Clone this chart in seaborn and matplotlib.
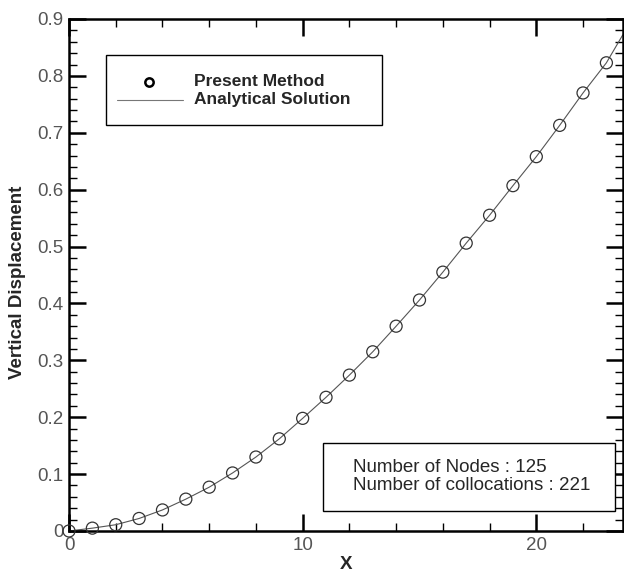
import matplotlib
matplotlib.use("Agg")
import matplotlib.pyplot as plt
from matplotlib.lines import Line2D
from matplotlib.patches import Rectangle
from matplotlib.ticker import MultipleLocator
import seaborn as sns
import pandas as pd

# values
node_x = [0, 1, 2, 3, 4, 5, 6, 7, 8, 9, 10, 11, 12, 13, 14, 15, 16, 17, 18, 19, 20, 21, 22, 23]
node_y = [0.0, 0.005, 0.011, 0.022, 0.037, 0.056, 0.077, 0.102, 0.130, 0.162, 0.198, 0.235,
          0.274, 0.315, 0.360, 0.406, 0.455, 0.506, 0.555, 0.607, 0.658, 0.713, 0.770, 0.823]
exact_x = node_x + [23.7]
exact_y = node_y + [0.872]

legend_labels = ["Present Method", "Analytical Solution"]
info_lines = ["Number of Nodes : 125", "Number of collocations : 221"]

sns.set_style("ticks")
plt.rcParams['font.family'] = ['Liberation Sans', 'DejaVu Sans']

fig = plt.figure(figsize=(6.24, 5.72), dpi=100)
ax = fig.add_axes([0.1106, 0.0717, 0.8874, 0.8951])

sns.lineplot(data=pd.DataFrame({"x": exact_x, "y": exact_y}), x="x", y="y", ax=ax,
             color="#555555", linewidth=0.8, sort=False)
sns.scatterplot(data=pd.DataFrame({"x": node_x, "y": node_y}), x="x", y="y", ax=ax,
                marker="o", s=75, facecolor="none", edgecolor="#333333", linewidth=0.9,
                zorder=3, clip_on=False)

ax.set_xlim(0, 23.7)
ax.set_ylim(0, 0.9)
ax.xaxis.set_major_locator(MultipleLocator(10))
ax.xaxis.set_minor_locator(MultipleLocator(2))
ax.yaxis.set_minor_locator(MultipleLocator(0.02))
ax.set_yticks([0, 0.1, 0.2, 0.3, 0.4, 0.5, 0.6, 0.7, 0.8, 0.9])
ax.set_yticklabels(["0", "0.1", "0.2", "0.3", "0.4", "0.5", "0.6", "0.7", "0.8", "0.9"])
ax.tick_params(which="both", direction="in", top=True, right=True, color="black",
               labelsize=13.5, labelcolor="#555555")
ax.tick_params(which="major", length=12, width=1.8, pad=4)
ax.tick_params(which="minor", length=6, width=1.0)
for sp in ax.spines.values():
    sp.set_linewidth(1.8)
    sp.set_color("black")

ax.set_xlabel("X", fontsize=13.5, fontweight="bold", labelpad=2)
ax.set_ylabel("Vertical Displacement", fontsize=13.5, fontweight="bold")
ax.yaxis.set_label_coords(-0.078, 0.485)

# legend box drawn by hand to match the reference layout
ax.add_patch(Rectangle((0.0668, 0.793), 0.498, 0.137, transform=ax.transAxes,
                       facecolor="white", edgecolor="black", linewidth=1.0, zorder=4))
ax.add_line(Line2D([0.1444], [0.877], transform=ax.transAxes, linestyle="none",
                   marker="o", markersize=6, markerfacecolor="none",
                   markeredgecolor="black", markeredgewidth=1.8, zorder=5))
ax.add_line(Line2D([0.0866, 0.2058], [0.842, 0.842], transform=ax.transAxes,
                   color="#777777", linewidth=0.8, zorder=5))
ax.text(0.2256, 0.877, legend_labels[0], transform=ax.transAxes, fontsize=12.5,
        fontweight="bold", va="center", ha="left", zorder=5)
ax.text(0.2256, 0.842, legend_labels[1], transform=ax.transAxes, fontsize=12.5,
        fontweight="bold", va="center", ha="left", zorder=5)

# info box
ax.add_patch(Rectangle((0.458, 0.039), 0.528, 0.133, transform=ax.transAxes,
                       facecolor="white", edgecolor="black", linewidth=1.0, zorder=4))
ax.text(0.512, 0.124, info_lines[0], transform=ax.transAxes, fontsize=13.5,
        va="center", ha="left", zorder=5)
ax.text(0.512, 0.088, info_lines[1], transform=ax.transAxes, fontsize=13.5,
        va="center", ha="left", zorder=5)

fig.savefig("out.png", dpi=100)
